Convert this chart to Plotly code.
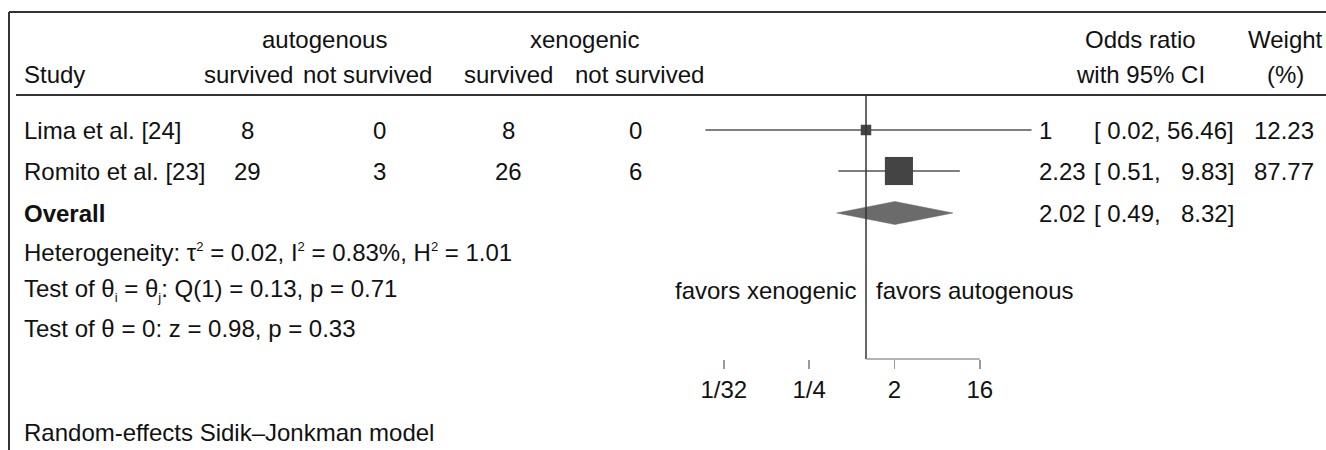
import math
import plotly.graph_objects as go

# ---------------- data ----------------
studies = ["Lima et al. [24]", "Romito et al. [23]"]
auto_survived = [8, 29]
auto_not_survived = [0, 3]
xeno_survived = [8, 26]
xeno_not_survived = [0, 6]
odds_ratio = [1.0, 2.23]
or_labels = ["1", "2.23"]
ci_low = [0.02, 0.51]
ci_high = [56.46, 9.83]
weight = [12.23, 87.77]

overall_or = 2.02
overall_low = 0.49
overall_high = 8.32

tick_vals = [1 / 32, 1 / 4, 2, 16]
tick_text = ["1/32", "1/4", "2", "16"]

group_headers = ["autogenous", "xenogenic"]
col_headers = ["survived", "not survived", "survived", "not survived"]
SUP = '<sup><span style="font-size:13px">2</span></sup>'
het_text = "Heterogeneity: τ" + SUP + " = 0.02, I" + SUP + " = 0.83%, H" + SUP + " = 1.01"
test_het_text = ('Test of θ<sub><span style="font-size:13px">i</span></sub> = '
                 'θ<sub><span style="font-size:13px">j</span></sub>: Q(1) = 0.13, p = 0.71')
test_z_text = "Test of θ = 0: z = 0.98, p = 0.33"
model_text = "Random-effects Sidik–Jonkman model"
favors_left = "favors xenogenic"
favors_right = "favors autogenous"

# ---------------- layout constants ----------------
W, H = 1326, 450
FONT = "Liberation Sans, Arial, sans-serif"
FS = 24
TXT = "#111111"
X_NULL = 866.0          # pixel of OR = 1
PX_LOG2 = 28.45         # pixels per doubling
L10 = math.log10(2)
x_range = [(0 - X_NULL) / PX_LOG2 * L10, (W - X_NULL) / PX_LOG2 * L10]

Y_TOP = 12
Y_H1, Y_H2 = 39, 74
Y_RULE = 95
ROW_Y = [130, 171]
Y_OVERALL = 213
Y_HET, Y_TESTHET, Y_TESTZ = 252, 290, 328
Y_AXIS = 359
Y_FOOT = 432

X_LEFT = 9
X_STUDY = 22
COL_HEAD_X = [248, 367, 508, 639]
COL_VAL_X = [247, 379, 508, 635]
GROUP_X = [324, 584]
X_OR = 1037
X_LO_R = 1163
X_CI_R = 1236
X_W_R = 1316
X_HEAD_OR = 1140
X_HEAD_W = 1285

fig = go.Figure()

# CI lines
xs, ys = [], []
for lo, hi, y in zip(ci_low, ci_high, ROW_Y):
    xs += [lo, hi, None]
    ys += [y, y, None]
fig.add_trace(go.Scatter(x=xs, y=ys, mode="lines",
                         line=dict(color="#555555", width=1.6),
                         hoverinfo="skip", showlegend=False))

# weighted squares
fig.add_trace(go.Scatter(x=odds_ratio, y=ROW_Y, mode="markers", opacity=1,
                         marker=dict(symbol="square", color="#444444", opacity=1,
                                     size=[3.0 * math.sqrt(w) for w in weight],
                                     line=dict(width=0)),
                         hoverinfo="skip", showlegend=False))

# overall diamond
DH = 11.5
fig.add_trace(go.Scatter(
    x=[overall_low, overall_or, overall_high, overall_or, overall_low],
    y=[Y_OVERALL, Y_OVERALL - DH, Y_OVERALL, Y_OVERALL + DH, Y_OVERALL],
    mode="lines", fill="toself", fillcolor="#6b6b6b",
    line=dict(color="#6b6b6b", width=0.5),
    hoverinfo="skip", showlegend=False))

shapes = [
    dict(type="line", xref="paper", yref="y", x0=X_LEFT / W, x1=1, y0=Y_TOP, y1=Y_TOP,
         line=dict(color="#333333", width=2)),
    dict(type="line", xref="paper", yref="y", x0=X_LEFT / W, x1=X_LEFT / W, y0=Y_TOP, y1=H,
         line=dict(color="#333333", width=2)),
    dict(type="line", xref="paper", yref="y", x0=16 / W, x1=1, y0=Y_RULE, y1=Y_RULE,
         line=dict(color="#333333", width=2)),
    dict(type="line", xref="x", yref="y", x0=1, x1=1, y0=Y_RULE, y1=Y_AXIS,
         line=dict(color="#333333", width=1.5)),
    dict(type="line", xref="x", yref="y", x0=1, x1=tick_vals[-1], y0=Y_AXIS, y1=Y_AXIS,
         line=dict(color="#9a9a9a", width=1.5)),
]

ann = []


def txt(x, y, s, anchor="left", bold=False):
    ann.append(dict(xref="paper", yref="y", x=x / W, y=y, text=("<b>%s</b>" % s) if bold else s,
                    xanchor=anchor, yanchor="middle", showarrow=False,
                    font=dict(family=FONT, size=FS, color=TXT)))


for gx, g in zip(GROUP_X, group_headers):
    txt(gx, Y_H1, g, "center")
txt(X_STUDY, Y_H2, "Study")
for cx, c in zip(COL_HEAD_X, col_headers):
    txt(cx, Y_H2, c, "center")
txt(X_HEAD_OR, Y_H1, "Odds ratio", "center")
txt(X_HEAD_OR, Y_H2, "with 95% CI", "center")
txt(X_HEAD_W, Y_H1, "Weight", "center")
txt(X_HEAD_W, Y_H2, "(%)", "center")


def ci_parts(y, lo, hi):
    txt(X_LO_R, y, "[&nbsp;%.2f," % lo, "right")
    txt(X_CI_R, y, "%.2f]" % hi, "right")


for i, y in enumerate(ROW_Y):
    txt(X_STUDY, y, studies[i])
    for cx, v in zip(COL_VAL_X, [auto_survived[i], auto_not_survived[i],
                                 xeno_survived[i], xeno_not_survived[i]]):
        txt(cx, y, str(v), "center")
    txt(X_OR, y, or_labels[i])
    ci_parts(y, ci_low[i], ci_high[i])
    txt(X_W_R, y, "%.2f" % weight[i], "right")

txt(X_STUDY, Y_OVERALL, "Overall", bold=True)
txt(X_OR, Y_OVERALL, "%.2f" % overall_or)
ci_parts(Y_OVERALL, overall_low, overall_high)
txt(X_STUDY, Y_HET, het_text)
txt(X_STUDY, Y_TESTHET, test_het_text)
txt(X_STUDY, Y_TESTZ, test_z_text)
txt(X_NULL - 8, Y_TESTHET, favors_left, "right")
txt(X_NULL + 8, Y_TESTHET, favors_right, "left")
txt(X_STUDY, Y_FOOT, model_text)

fig.update_layout(
    width=W, height=H, margin=dict(l=0, r=0, t=0, b=0),
    paper_bgcolor="white", plot_bgcolor="white",
    shapes=shapes, annotations=ann, showlegend=False,
    xaxis=dict(type="log", range=x_range, domain=[0, 1], anchor="free",
               position=1 - Y_AXIS / H, showline=False, showgrid=False, zeroline=False,
               ticks="outside", ticklen=9, tickwidth=1.5, tickcolor="#9a9a9a",
               tickvals=tick_vals, ticktext=tick_text,
               tickfont=dict(family=FONT, size=FS, color=TXT), fixedrange=True),
    yaxis=dict(range=[H, 0], domain=[0, 1], visible=False, fixedrange=True),
)

fig.write_html("out.html", config={"displayModeBar": False, "staticPlot": True},
               post_script="document.body.style.margin='0';document.body.style.overflow='hidden';")
